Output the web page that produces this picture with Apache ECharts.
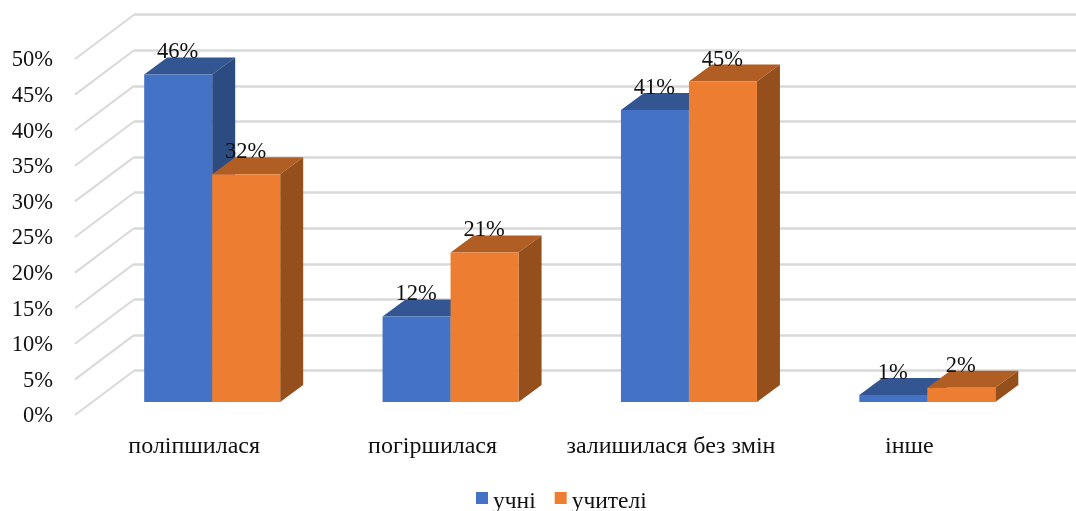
<!DOCTYPE html>
<html><head><meta charset="utf-8">
<style>html,body{margin:0;padding:0;background:#fff}#c{width:1076px;height:511px}</style>
<script src="https://cdn.jsdelivr.net/npm/echarts@6/dist/echarts.min.js"></script>
</head><body><div id="c"></div>
<script>
const categories = ['поліпшилася','погіршилася','залишилася без змін','інше'];
const students = [46,12,41,1];
const teachers = [32,21,45,2];
const ticks = [0,5,10,15,20,25,30,35,40,45,50];
const seriesNames = ['учні','учителі'];
const FONT = '"Liberation Serif","Times New Roman",serif';
const BAR_W = 68, DX = 23, DY = 17, WALL_DX = 59, WALL_DY = 44.3;
const palette = [
  {front:'#4472C4', top:'#335693', side:'#2C4B80'},
  {front:'#ED7D31', top:'#B15E25', side:'#954F1C'}
];
function bar3d(k){
  return function(params, api){
    const v = api.value(1), idx = api.value(0);
    const t = api.coord([idx, v]), b = api.coord([idx, 0]);
    const x0 = t[0] + (k === 0 ? -BAR_W : 0), x1 = x0 + BAR_W;
    const c = palette[k];
    return {type:'group', children:[
      {type:'polygon', shape:{points:[[x0,t[1]],[x0+DX,t[1]-DY],[x1+DX,t[1]-DY],[x1,t[1]]]}, style:{fill:c.top}},
      {type:'polygon', shape:{points:[[x1,t[1]],[x1+DX,t[1]-DY],[x1+DX,b[1]-DY],[x1,b[1]]]}, style:{fill:c.side}},
      {type:'rect', shape:{x:x0,y:t[1],width:BAR_W,height:b[1]-t[1]}, style:{fill:c.front}},
      {type:'text', z2:50, style:{x:(x0+x1)/2-0.5, y:t[1]-22, text:v+'%', fill:'#111', font:'22.5px '+FONT, align:'center', verticalAlign:'middle'}}
    ]};
  };
}
const chart = echarts.init(document.getElementById('c'), null, {renderer:'canvas'});
chart.setOption({
  animation:false,
  backgroundColor:'#fff',
  textStyle:{fontFamily:FONT},
  legend:{data:seriesNames, left:471, top:485, itemWidth:12, itemHeight:12, itemGap:19, icon:'rect',
    formatter:n=>'{a|'+n+'}',
    textStyle:{fontFamily:FONT, fontSize:23.5, color:'#111',
      rich:{a:{fontFamily:FONT, fontSize:23.5, color:'#111', padding:[8,0,0,0]}}}},
  grid:[
    {left:75, width:953.5, top:59, height:356},
    {left:93, width:953.5, top:46, height:356},
    {left:134, right:0, top:14.7, height:356}
  ],
  xAxis:[
    {gridIndex:0, type:'category', data:categories, axisLine:{show:false}, axisTick:{show:false},
      axisLabel:{fontFamily:FONT, fontSize:24, color:'#111', margin:20, interval:0}},
    {gridIndex:1, type:'category', data:categories, show:false},
    {gridIndex:2, type:'category', data:categories, show:false}
  ],
  yAxis:[
    {gridIndex:0, type:'value', min:0, max:50, interval:5, splitLine:{show:false}, axisLine:{show:false}, axisTick:{show:false},
      axisLabel:{formatter:v=>'{a|'+v+'%}', margin:22,
        rich:{a:{fontFamily:FONT, fontSize:22.5, color:'#111', padding:[3,0,0,0]}}}},
    {gridIndex:1, type:'value', min:0, max:50, interval:5, show:false},
    {gridIndex:2, type:'value', min:0, max:50, interval:5, axisLine:{show:false}, axisTick:{show:false}, axisLabel:{show:false},
      splitLine:{show:true, lineStyle:{color:'#D9D9D9', width:2.5}}}
  ],
  series:[
    {type:'custom', xAxisIndex:0, yAxisIndex:0, silent:true, clip:false, z:1, data:ticks.map(v=>[0,v]), encode:{x:0,y:1},
      renderItem:function(p, api){
        const c = api.coord([0, api.value(1)]);
        const x = 75;
        return {type:'line', shape:{x1:x,y1:c[1],x2:x+WALL_DX,y2:c[1]-WALL_DY}, style:{stroke:'#D9D9D9', lineWidth:2, fill:null}};
      }},
    {name:seriesNames[0], type:'custom', xAxisIndex:1, yAxisIndex:1, clip:false, z:3, itemStyle:{color:palette[0].front},
      data:students.map((v,i)=>[i,v]), encode:{x:0,y:1}, renderItem:bar3d(0)},
    {name:seriesNames[1], type:'custom', xAxisIndex:1, yAxisIndex:1, clip:false, z:4, itemStyle:{color:palette[1].front},
      data:teachers.map((v,i)=>[i,v]), encode:{x:0,y:1}, renderItem:bar3d(1)}
  ]
});
</script></body></html>
